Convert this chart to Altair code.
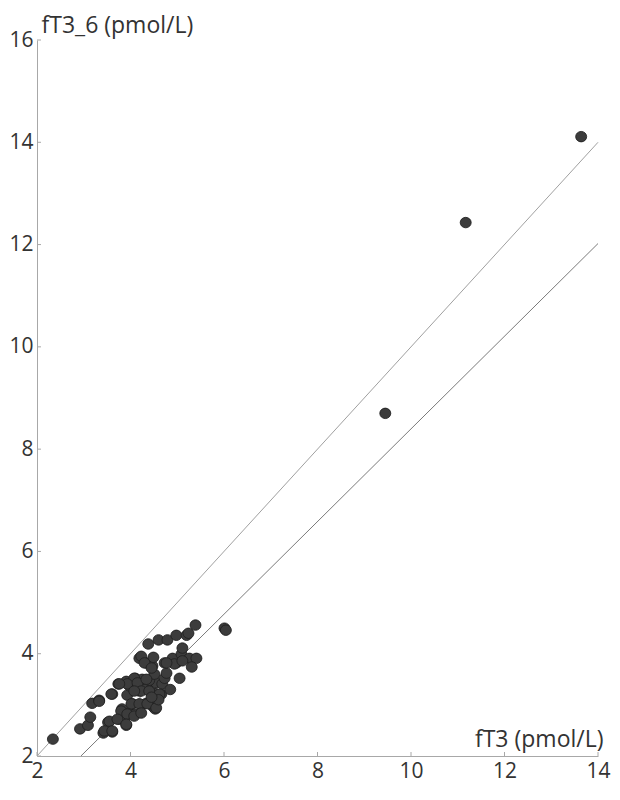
import altair as alt
import pandas as pd

# measured values
ft3 = [2.34, 2.92, 3.09, 3.14, 3.18, 3.33, 3.61, 3.74, 3.42, 3.52, 3.61, 3.76, 3.87, 3.91,
       3.82, 3.98, 4.04, 4.10, 4.23, 4.34, 4.49, 4.53, 3.93, 3.98, 4.10, 3.91, 4.19, 4.36,
       4.51, 4.55, 4.66, 4.68, 4.25, 4.40, 4.51, 4.73, 4.77, 5.05, 4.98, 4.73, 4.34, 4.47,
       4.19, 4.49, 4.90, 5.09, 5.11, 5.26, 5.41, 5.31, 4.38, 4.60, 4.79, 4.98, 5.20, 5.24,
       5.39, 6.01, 6.04, 4.23, 4.30, 4.45, 4.94, 5.11, 4.77, 4.08, 3.93, 4.15, 4.34, 3.76,
       3.59, 3.33, 4.23, 4.40, 4.62, 4.08, 4.02, 4.19, 4.36, 4.55, 3.80, 3.93, 4.08, 4.23,
       3.55, 3.72, 3.91, 3.44, 3.61, 4.60, 4.85, 4.45, 9.45, 11.17, 13.64]
ft3_6 = [2.33, 2.53, 2.60, 2.76, 3.03, 3.09, 3.21, 3.41, 2.45, 2.66, 2.47, 2.72, 2.74, 2.60,
         2.92, 2.84, 3.02, 2.82, 3.00, 3.03, 2.96, 2.92, 3.19, 3.37, 3.52, 3.46, 3.27, 3.33,
         3.23, 3.43, 3.21, 3.41, 3.50, 3.48, 3.60, 3.52, 3.62, 3.52, 3.82, 3.82, 3.82, 3.76,
         3.91, 3.93, 3.91, 3.99, 4.11, 3.91, 3.91, 3.74, 4.19, 4.27, 4.27, 4.36, 4.36, 4.40,
         4.56, 4.50, 4.46, 3.95, 3.82, 3.72, 3.80, 3.86, 3.82, 3.52, 3.41, 3.43, 3.50, 3.41,
         3.21, 3.07, 3.27, 3.27, 3.21, 3.27, 3.02, 3.02, 3.02, 2.94, 2.88, 2.82, 2.78, 2.84,
         2.68, 2.72, 2.62, 2.49, 2.49, 3.10, 3.30, 3.15, 8.70, 12.43, 14.11]

upper_x = [2.0, 14.0]
upper_y = [2.0, 14.0]
lower_x = [2.94, 14.0]
lower_y = [2.0, 12.02]

x_ticks = [2, 4, 6, 8, 10, 12, 14]
y_ticks = [2, 4, 6, 8, 10, 12, 14, 16]

W, H = 561, 716
FONT = "Open Sans"
TXT = "#333333"
AX = "#a8a8a8"
FS = 21
TS = 23

pts = pd.DataFrame({"x": ft3, "y": ft3_6})
up = pd.DataFrame({"x": upper_x, "y": upper_y})
lo = pd.DataFrame({"x": lower_x, "y": lower_y})
xt = pd.DataFrame({"t": x_ticks})
yt = pd.DataFrame({"t": y_ticks})

xs = alt.Scale(domain=[2, 14], nice=False, zero=False)
ys = alt.Scale(domain=[2, 16], nice=False, zero=False)

xaxis = alt.Axis(values=x_ticks, ticks=False, grid=False, domainColor=AX,
                 labelFont=FONT, labelFontSize=FS, labelColor=TXT, labelPadding=4,
                 labelFlush=False, labelOverlap=False,
                 title="fT3 (pmol/L)", titleFont=FONT, titleFontSize=TS,
                 titleFontWeight="normal", titleColor=TXT, titleAlign="right",
                 titleAnchor="end", titleX=W + 5, titleY=-10, titleBaseline="alphabetic")
yaxis = alt.Axis(values=y_ticks, ticks=False, grid=False, domainColor=AX,
                 labelFont=FONT, labelFontSize=FS, labelColor=TXT, labelPadding=4,
                 labelFlush=False, labelOverlap=False,
                 title="fT3_6 (pmol/L)", titleFont=FONT, titleFontSize=TS,
                 titleFontWeight="normal", titleColor=TXT, titleAngle=0,
                 titleAlign="left", titleX=4, titleY=-8, titleBaseline="alphabetic")

ellipse = "M -1.05 0 A 1.05 1 0 1 0 1.05 0 A 1.05 1 0 1 0 -1.05 0 Z"

base_pts = alt.Chart(pts).mark_point(shape=ellipse, size=110, filled=True, opacity=1,
                                     fill="#3c3c3c", stroke="#1e1e1e",
                                     strokeWidth=0.8).encode(
    x=alt.X("x:Q", scale=xs, axis=xaxis),
    y=alt.Y("y:Q", scale=ys, axis=yaxis),
)

l_up = alt.Chart(up).mark_line(color="#a0a0a0", strokeWidth=1).encode(
    x=alt.X("x:Q", scale=xs), y=alt.Y("y:Q", scale=ys))
l_lo = alt.Chart(lo).mark_line(color="#7a7a7a", strokeWidth=1).encode(
    x=alt.X("x:Q", scale=xs), y=alt.Y("y:Q", scale=ys))

xtick = alt.Chart(xt).mark_rule(color=AX, strokeWidth=1).encode(
    x=alt.X("t:Q", scale=xs), y=alt.value(H), y2=alt.value(H - 4))
ytick = alt.Chart(yt).mark_rule(color=AX, strokeWidth=1).encode(
    y=alt.Y("t:Q", scale=ys), x=alt.value(0), x2=alt.value(4))

chart = alt.layer(l_up, l_lo, xtick, ytick, base_pts).properties(
    width=W, height=H, background="white",
    padding={"left": 0, "top": 6, "right": 0, "bottom": 5}
).configure_view(strokeWidth=0)

chart.save("out.html", embed_options={"renderer": "svg", "actions": False})
